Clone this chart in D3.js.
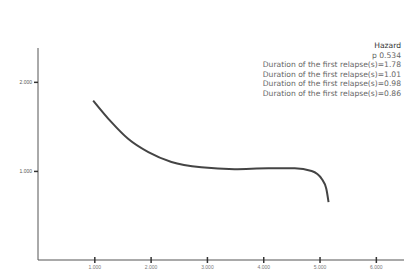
<!DOCTYPE html>
<html>
<head>
<meta charset="utf-8">
<script src="https://cdn.jsdelivr.net/npm/d3@7"></script>
<style>
  body { margin: 0; background: #fff; }
  svg { display: block; font-family: "DejaVu Sans", sans-serif; }
</style>
</head>
<body>
<svg id="canvas"></svg>
<script>
//--data
let xValues = [0.98, 1.30, 1.60, 1.96, 2.37, 2.90, 3.49, 4.09, 4.56, 4.86, 5.04, 5.12, 5.16];
let yValues = [1.79, 1.55, 1.36, 1.21, 1.10, 1.04, 1.02, 1.03, 1.03, 1.00, 0.91, 0.80, 0.65];
let xTicks = [1, 2, 3, 4, 5, 6];
let xTickLabels = ["1.000", "2.000", "3.000", "4.000", "5.000", "6.000"];
let yTicks = [1, 2];
let yTickLabels = ["1.000", "2.000"];
let legendLines = [
    "Hazard",
    "p 0.534",
    "Duration of the first relapse(s)=1.78",
    "Duration of the first relapse(s)=1.01",
    "Duration of the first relapse(s)=0.98",
    "Duration of the first relapse(s)=0.86"
];
//--

let width = 404;
let height = 271;

let canvas = d3.select("#canvas")
canvas.attr("width", width)
canvas.attr("height", height)

let x = d3.scaleLinear().domain([0, 6.5]).range([38, 404])
let y = d3.scaleLinear().domain([0, 2.38]).range([260, 48])

//--axes
let xAxis = d3.axisBottom(x)
              .tickValues(xTicks)
              .tickFormat((d, i) => xTickLabels[i])
              .tickSize(3)
              .tickPadding(2)

let yAxis = d3.axisLeft(y)
              .tickValues(yTicks)
              .tickFormat((d, i) => yTickLabels[i])
              .tickSize(4)
              .tickPadding(2)

let gx = canvas.append('g')
               .attr('transform', 'translate(0,' + y(0) + ')')
               .call(xAxis)
gx.select('.domain').attr('stroke', '#555').attr('d', 'M' + x(0) + ',0H' + width)
gx.selectAll('.tick line').attr('stroke', '#333').attr('y1', -3).attr('stroke-width', 1.5)
gx.selectAll('.tick text').attr('fill', '#777').attr('font-size', 5)

let gy = canvas.append('g')
               .attr('transform', 'translate(' + x(0) + ',0)')
               .call(yAxis)
gy.select('.domain').attr('stroke', '#555').attr('d', 'M0,' + y(2.38) + 'V' + y(0))
gy.selectAll('.tick line').attr('stroke', '#333').attr('stroke-width', 1.5)
gy.selectAll('.tick text').attr('fill', '#555').attr('font-size', 5)
//--

//--the curve
let points = xValues.map((d, i) => [d, yValues[i]])
let line = d3.line()
             .x(d => x(d[0]))
             .y(d => y(d[1]))
             .curve(d3.curveMonotoneX)

canvas.append('path')
      .datum(points)
      .attr('d', line)
      .attr('fill', 'none')
      .attr('stroke', '#444')
      .attr('stroke-width', 2)
//--

//--legend text, right aligned
canvas.append('g')
      .selectAll('text')
      .data(legendLines)
      .enter()
      .append('text')
      .attr('x', 401)
      .attr('y', (d, i) => 48 + i * 9.6)
      .attr('text-anchor', 'end')
      .attr('font-size', 7.6)
      .attr('fill', (d, i) => i == 0 ? '#333' : '#666')
      .text(d => d)
</script>
</body>
</html>
